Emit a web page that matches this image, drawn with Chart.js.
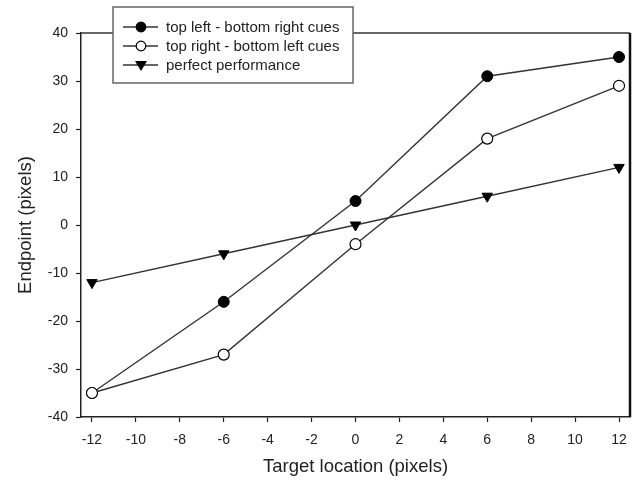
<!DOCTYPE html>
<html>
<head>
<meta charset="utf-8">
<script src="https://cdn.jsdelivr.net/npm/chart.js@4/dist/chart.umd.min.js"></script>
<style>
  body { margin: 0; background: #fff; }
  #wrap { width: 637px; height: 485px; }
</style>
</head>
<body>
<div id="wrap"><canvas id="chart" width="637" height="485"></canvas></div>
<script>
const targets = [-12, -6, 0, 6, 12];
const tlbrCues = [-35, -16, 5, 31, 35];
const trblCues = [-35, -27, -4, 18, 29];
const perfect = [-12, -6, 0, 6, 12];
const xTicks = [-12, -10, -8, -6, -4, -2, 0, 2, 4, 6, 8, 10, 12];
const labels = ['top left - bottom right cues', 'top right - bottom left cues', 'perfect performance'];

function toPoints(vals) {
    return targets.map((x, i) => ({ x: x, y: vals[i] }));
}

const fontFamily = '"Liberation Sans", Arial, sans-serif';

// box round the plot area, plus the legend inside its own box
const framePlugin = {
    id: 'frame',
    afterDraw(chart) {
        const ctx = chart.ctx;
        const a = chart.chartArea;
        ctx.save();
        ctx.strokeStyle = '#333';
        ctx.lineWidth = 1.5;
        ctx.beginPath();
        ctx.moveTo(a.left, a.top);
        ctx.lineTo(a.right, a.top);
        ctx.stroke();
        ctx.strokeStyle = '#111';
        ctx.lineWidth = 2.5;
        ctx.beginPath();
        ctx.moveTo(a.right, a.top);
        ctx.lineTo(a.right, a.bottom);
        ctx.stroke();

        // legend
        const bx = 113, by = 7, bw = 240, bh = 76;
        ctx.fillStyle = '#fff';
        ctx.fillRect(bx, by, bw, bh);
        ctx.strokeStyle = '#666';
        ctx.lineWidth = 1.5;
        ctx.strokeRect(bx, by, bw, bh);
        ctx.font = '15px ' + fontFamily;
        ctx.textBaseline = 'middle';
        chart.data.datasets.forEach((ds, i) => {
            const y = 27 + i * 19;
            ctx.strokeStyle = '#333';
            ctx.lineWidth = 1.5;
            ctx.beginPath();
            ctx.moveTo(123, y);
            ctx.lineTo(158, y);
            ctx.stroke();
            ctx.fillStyle = ds.pointBackgroundColor;
            ctx.strokeStyle = '#000';
            ctx.lineWidth = 1.2;
            if (ds.pointStyle === 'triangle') {
                ctx.beginPath();
                ctx.moveTo(135, y - 4);
                ctx.lineTo(147, y - 4);
                ctx.lineTo(141, y + 6);
                ctx.closePath();
                ctx.fill();
            } else {
                ctx.beginPath();
                ctx.arc(141, y, 4.8, 0, Math.PI * 2);
                ctx.fill();
                ctx.stroke();
            }
            ctx.fillStyle = '#222';
            ctx.fillText(ds.label, 166, y + 1);
        });
        ctx.restore();
    }
};

const ctx = document.getElementById('chart').getContext('2d');
new Chart(ctx, {
    type: 'line',
    data: {
        datasets: [
            {
                label: labels[0],
                data: toPoints(tlbrCues),
                order: 2,
                borderColor: '#333',
                borderWidth: 1.4,
                pointStyle: 'circle',
                pointRadius: 5.5,
                pointBackgroundColor: '#000',
                pointBorderColor: '#000',
                pointBorderWidth: 1
            },
            {
                label: labels[1],
                data: toPoints(trblCues),
                order: 1,
                borderColor: '#333',
                borderWidth: 1.4,
                pointStyle: 'circle',
                pointRadius: 5.5,
                pointBackgroundColor: '#fff',
                pointBorderColor: '#000',
                pointBorderWidth: 1.2
            },
            {
                label: labels[2],
                data: toPoints(perfect),
                order: 3,
                borderColor: '#333',
                borderWidth: 1.4,
                pointStyle: 'triangle',
                pointRotation: 180,
                pointRadius: 6,
                pointBackgroundColor: '#000',
                pointBorderColor: '#000',
                pointBorderWidth: 1
            }
        ]
    },
    options: {
        responsive: false,
        animation: false,
        layout: { padding: { top: 33, right: 2, left: 0, bottom: 0 } },
        plugins: {
            legend: { display: false },
            tooltip: { enabled: false }
        },
        scales: {
            x: {
                type: 'linear',
                min: -12.5,
                max: 12.5,
                afterBuildTicks: axis => { axis.ticks = xTicks.map(v => ({ value: v })); },
                afterFit: axis => { axis.height = 68; },
                grid: { drawOnChartArea: false, tickLength: 5, tickColor: '#222', tickWidth: 1.2 },
                border: { color: '#222', width: 1.5 },
                ticks: {
                    color: '#222',
                    font: { family: fontFamily, size: 14 },
                    padding: 10,
                    maxRotation: 0
                },
                title: {
                    display: true,
                    text: 'Target location (pixels)',
                    color: '#222',
                    font: { family: fontFamily, size: 18.5 },
                    padding: { top: 4, bottom: 7 }
                }
            },
            y: {
                min: -40,
                max: 40,
                ticks: {
                    stepSize: 10,
                    color: '#222',
                    font: { family: fontFamily, size: 14 },
                    padding: 8
                },
                afterFit: axis => { axis.width = 81; },
                grid: { drawOnChartArea: false, tickLength: 5, tickColor: '#222', tickWidth: 1.2 },
                border: { color: '#222', width: 1.5 },
                title: {
                    display: true,
                    text: 'Endpoint (pixels)',
                    color: '#222',
                    font: { family: fontFamily, size: 18.5 },
                    padding: { top: 15, bottom: 4 }
                }
            }
        }
    },
    plugins: [framePlugin]
});
</script>
</body>
</html>
